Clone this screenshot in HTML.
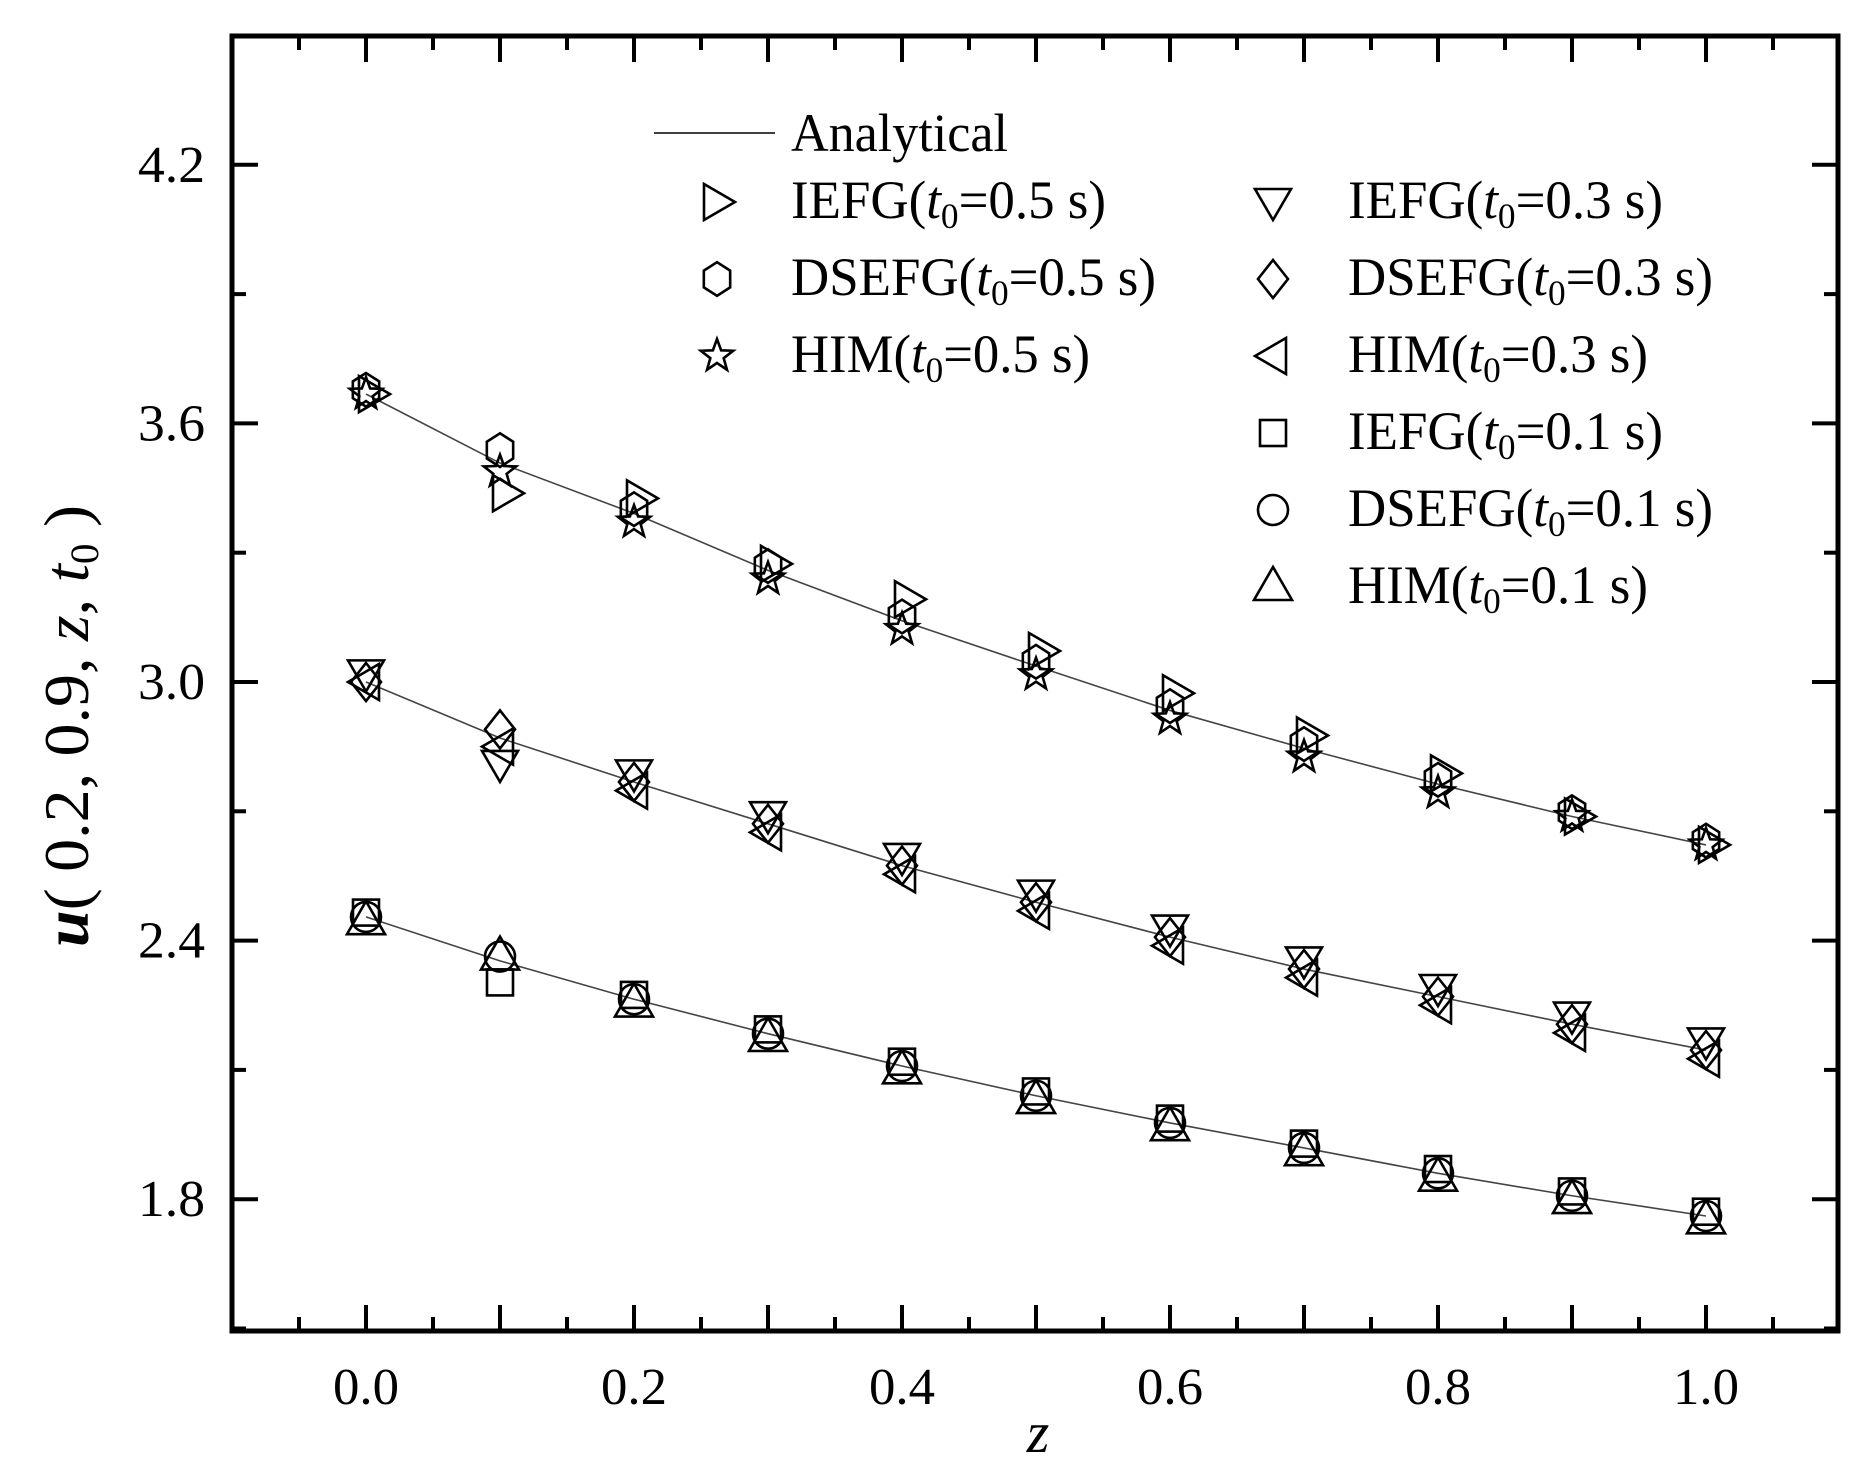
<!DOCTYPE html>
<html><head><meta charset="utf-8"><style>
html,body{margin:0;padding:0;background:#fff;}
svg text{font-family:"Liberation Serif",serif;fill:#000;}
</style></head><body>
<svg id="s" width="1871" height="1465" viewBox="0 0 1871 1465" xmlns="http://www.w3.org/2000/svg"></svg>
<script>
(function(){
const s=document.getElementById('s');
let h='';
const X=z=>366+z*1340, Y=v=>682-(v-3)*431;
const L=232,R=1838,T=36,B=1331;
h+=`<rect x="${L}" y="${T}" width="${R-L}" height="${B-T}" fill="none" stroke="#000" stroke-width="5"/>`;
for(let i=-1;i<=21;i++){const z=i*0.05;const x=X(z);if(x<=L+2||x>=R-2)continue;const len=i%2==0?26:14;
h+=`<line x1="${x}" y1="${B}" x2="${x}" y2="${B-len}" stroke="#000" stroke-width="4"/><line x1="${x}" y1="${T}" x2="${x}" y2="${T+len}" stroke="#000" stroke-width="4"/>`;}
for(let i=0;i<=5;i++){const z=i*0.2;h+=`<text x="${X(z)}" y="1404" font-size="52" text-anchor="middle" textLength="66" lengthAdjust="spacingAndGlyphs">${z.toFixed(1)}</text>`;}
for(let k=0;k<=12;k++){const v=1.5+k*0.3;const y=Y(v);if(y<=T+2||y>=B-2)continue;const q=(v-1.8)/0.6;const maj=Math.abs(q-Math.round(q))<1e-6;const len=maj?26:14;
h+=`<line x1="${L}" y1="${y}" x2="${L+len}" y2="${y}" stroke="#000" stroke-width="4"/><line x1="${R}" y1="${y}" x2="${R-len}" y2="${y}" stroke="#000" stroke-width="4"/>`;
if(maj)h+=`<text x="205" y="${y+17}" font-size="52" text-anchor="end" textLength="67" lengthAdjust="spacingAndGlyphs">${v.toFixed(1)}</text>`;}
h+=`<text x="1038" y="1452" font-size="58" font-style="italic" text-anchor="middle">z</text>`;
h+=`<text transform="translate(88,726) rotate(-90)" font-size="64" text-anchor="middle" textLength="442" lengthAdjust="spacingAndGlyphs"><tspan font-style="italic" font-weight="bold">u</tspan>( 0.2, 0.9, <tspan font-style="italic">z</tspan>, <tspan font-style="italic">t</tspan><tspan font-size="40" dy="10">0</tspan><tspan dy="-10"> )</tspan></text>`;
const zs=[0,.1,.2,.3,.4,.5,.6,.7,.8,.9,1];
const sTop=[3.668,3.508,3.391,3.259,3.142,3.037,2.934,2.846,2.763,2.688,2.622];
const sMid=[3.0,2.870,2.768,2.671,2.574,2.489,2.408,2.334,2.270,2.206,2.146];
const sBot=[2.455,2.353,2.264,2.184,2.109,2.040,1.977,1.919,1.860,1.808,1.761];
[sTop,sMid,sBot].forEach(a=>{h+=`<polyline fill="none" stroke="#444" stroke-width="1.6" points="${a.map((v,i)=>X(zs[i])+','+Y(v)).join(' ')}"/>`;});
const r=16;
function mk(t,x,y){const p=(pts)=>`<polygon points="${pts.map(q=>q.join(',')).join(' ')}" fill="none" stroke="#000" stroke-width="2.6"/>`;
 switch(t){
 case 'R':return p([[x-13,y-18],[x+18,y],[x-13,y+18]]);
 case 'Lf':return p([[x+13,y-18],[x-18,y],[x+13,y+18]]);
 case 'D':return p([[x,y+18],[x-18,y-13],[x+18,y-13]]);
 case 'U':return p([[x,y-20],[x-19,y+13],[x+19,y+13]]);
 case 'Dm':return p([[x,y-19],[x+15,y],[x,y+19],[x-15,y]]);
 case 'H':{let a=[];for(let i=0;i<6;i++){const t=Math.PI/2+i*Math.PI/3;a.push([x+r*0.95*Math.cos(t),y-r*1.05*Math.sin(t)]);}return p(a);}
 case 'S':{let a=[];for(let i=0;i<10;i++){const rr=i%2?7:17;const t=Math.PI/2+i*Math.PI/5;a.push([x+rr*Math.cos(t),y-rr*Math.sin(t)]);}return p(a);}
 case 'Sq':return `<rect x="${x-13}" y="${y-13}" width="26" height="26" fill="none" stroke="#000" stroke-width="2.6"/>`;
 case 'C':return `<circle cx="${x}" cy="${y}" r="15" fill="none" stroke="#000" stroke-width="2.6"/>`;}
 return '';}
const off1=[0,-.07,.035,.015,.05,.035,.04,.03,.025,0,0];
zs.forEach((z,i)=>{const x=X(z);
 h+=mk('R',x+6,Y(sTop[i]+off1[i]));
 h+=mk('H',x,Y(sTop[i]+(i==1?.03:.01)));
 h+=mk('S',x,Y(sTop[i]-(i>0&&i<9?.02:0)));
 h+=mk('D',x,Y(sMid[i]+(i==1?-.06:.02)));
 h+=mk('Dm',x,Y(sMid[i]+(i==1?.02:0)));
 h+=mk('Lf',x,Y(sMid[i]-(i>0?.02:0)));
 h+=mk('Sq',x,Y(sBot[i]+(i==1?-.05:.01)));
 h+=mk('C',x,Y(sBot[i]+(i==1?.01:0)));
 h+=mk('U',x,Y(sBot[i]+(i==1?.01:-.01)));
});
h+=`<line x1="654" y1="133" x2="775" y2="133" stroke="#000" stroke-width="1.6"/>`;
h+=`<text x="791" y="151" font-size="54" textLength="217" lengthAdjust="spacingAndGlyphs">Analytical</text>`;
function lt(x,y,pre,val,w){return `<text x="${x}" y="${y}" font-size="54" textLength="${w}" lengthAdjust="spacingAndGlyphs">${pre}(<tspan font-style="italic">t</tspan><tspan font-size="36" dy="10">0</tspan><tspan dy="-10">=${val} s)</tspan></text>`;}
const c1=[['R','IEFG','0.5',315],['H','DSEFG','0.5',365],['S','HIM','0.5',299]];
c1.forEach((e,i)=>{const y=218+i*77;h+=mk(e[0],717,y-16);h+=lt(791,y,e[1],e[2],e[3]);});
const c2=[['D','IEFG','0.3',315],['Dm','DSEFG','0.3',365],['Lf','HIM','0.3',300],['Sq','IEFG','0.1',315],['C','DSEFG','0.1',365],['U','HIM','0.1',300]];
c2.forEach((e,i)=>{const y=218+i*77;h+=mk(e[0],1273,y-16);h+=lt(1348,y,e[1],e[2],e[3]);});
s.innerHTML=h;
})();
</script>
</body></html>
